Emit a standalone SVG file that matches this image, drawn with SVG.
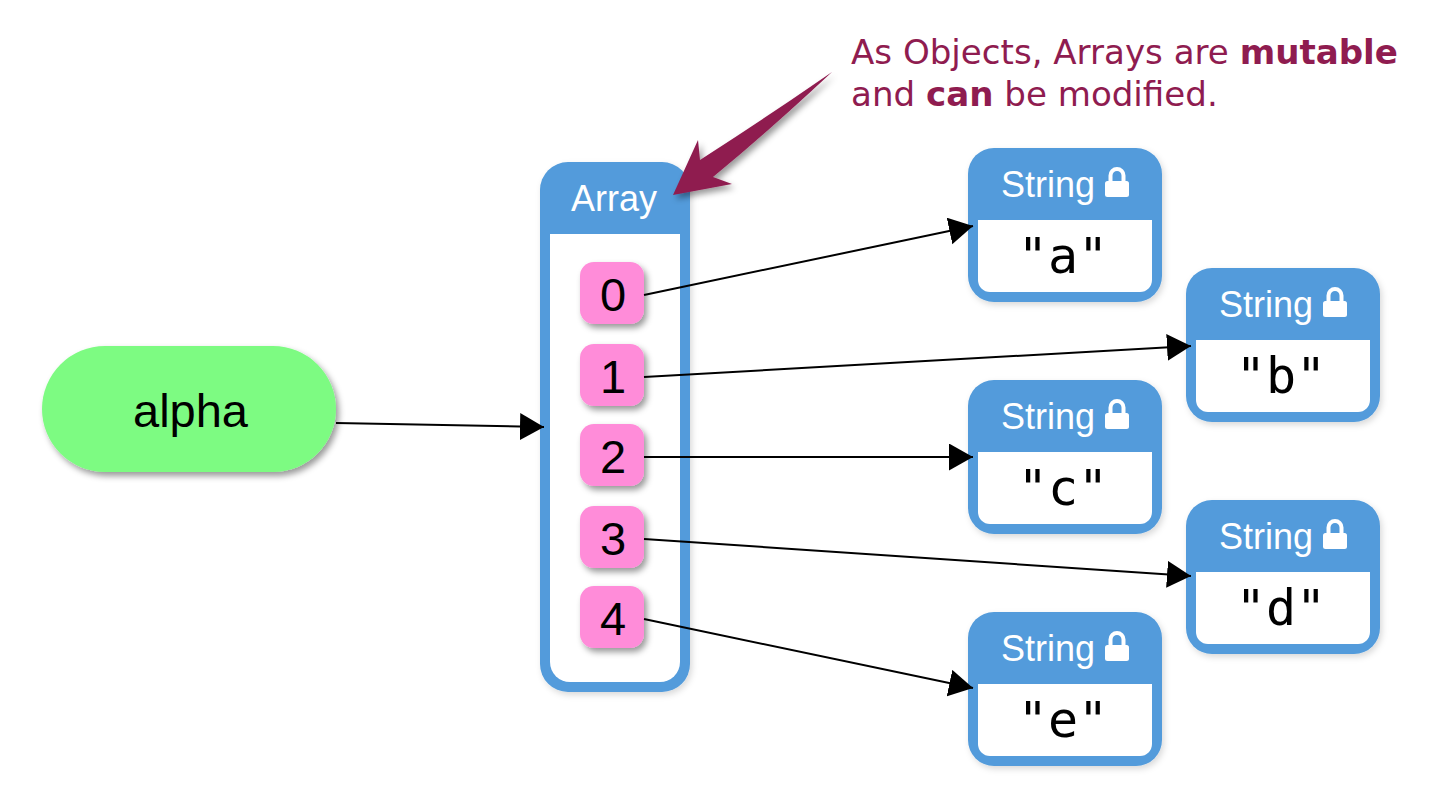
<svg xmlns="http://www.w3.org/2000/svg" width="1440" height="800" viewBox="0 0 1440 800">
<style>
.sans{font-family:"Liberation Sans",Arial,sans-serif}
.head{font-size:36px;fill:#fff;text-anchor:middle}
.idx{font-size:47px;fill:#000;text-anchor:middle}
.val{font-family:"DejaVu Sans Mono",monospace;font-size:50px;fill:#000;text-anchor:middle}
.pink{fill:#ff8cd9;filter:url(#sh)}
.blue{fill:#529bdb}
.inner{fill:#fff}
.note{font-family:"DejaVu Sans",sans-serif;font-size:34.100px;fill:#8f1c50}
.edge{stroke:#000;stroke-width:2;fill:none;marker-end:url(#ah)}
</style>
<defs>
<filter id="sh" x="-20%" y="-20%" width="150%" height="150%"><feDropShadow dx="3" dy="4" stdDeviation="3" flood-color="#000" flood-opacity=".4"/></filter>
<filter id="sh2" x="-20%" y="-20%" width="140%" height="140%"><feDropShadow dx="2" dy="3" stdDeviation="3" flood-color="#000" flood-opacity=".15"/></filter>
<marker id="ah" markerUnits="userSpaceOnUse" markerWidth="26" markerHeight="28" refX="24" refY="13.500" orient="auto"><path d="M0 0L24 13.500L0 27Z" fill="#000"/></marker>
<g id="lock"><rect x="-12" y="13" width="24" height="16" rx="2.500" fill="#fff"/><path d="M-6.500 14v-6.500a6.500 6.500 0 0 1 13 0v6.500" fill="none" stroke="#fff" stroke-width="4"/></g>
<g id="str"><rect width="194" height="154" rx="26" class="blue" filter="url(#sh2)"/><path d="M10 72h174v60a12 12 0 0 1-12 12h-150a12 12 0 0 1-12-12Z" class="inner"/><text x="80" y="49" class="sans head">String</text><use href="#lock" x="149" y="20"/></g>
</defs>
<rect width="1440" height="800" fill="#fff"/>
<g id="n-alpha"><rect x="42" y="346" width="294" height="126" rx="63" fill="#7dfb82" filter="url(#sh)"/><text x="190.500" y="427" class="sans" font-size="47" text-anchor="middle">alpha</text></g>
<g id="n-array"><rect x="540" y="162" width="150" height="530" rx="28" class="blue" filter="url(#sh2)"/><path d="M550 234h130v428a20 20 0 0 1-20 20h-90a20 20 0 0 1-20-20Z" class="inner"/><text x="614" y="211" class="sans head">Array</text>
<g id="n-i0"><rect x="580" y="262" width="64" height="62" rx="14" class="pink"/><text x="613" y="311" class="sans idx">0</text></g>
<g id="n-i1"><rect x="580" y="344" width="64" height="62" rx="14" class="pink"/><text x="613" y="393" class="sans idx">1</text></g>
<g id="n-i2"><rect x="580" y="424" width="64" height="62" rx="14" class="pink"/><text x="613" y="473" class="sans idx">2</text></g>
<g id="n-i3"><rect x="580" y="506" width="64" height="62" rx="14" class="pink"/><text x="613" y="555" class="sans idx">3</text></g>
<g id="n-i4"><rect x="580" y="586" width="64" height="62" rx="14" class="pink"/><text x="613" y="635" class="sans idx">4</text></g>
</g>
<g id="n-a"><use href="#str" x="968" y="148"/><text x="1063" y="273" class="val">"a"</text></g>
<g id="n-b"><use href="#str" x="1186" y="268"/><text x="1281" y="393" class="val">"b"</text></g>
<g id="n-c"><use href="#str" x="968" y="380"/><text x="1063" y="505" class="val">"c"</text></g>
<g id="n-d"><use href="#str" x="1186" y="500"/><text x="1281" y="625" class="val">"d"</text></g>
<g id="n-e"><use href="#str" x="968" y="612"/><text x="1063" y="737" class="val">"e"</text></g>
<g id="connectors">
<line class="edge" x1="336" y1="423" x2="544" y2="427"/>
<line class="edge" x1="644" y1="295" x2="973" y2="226"/>
<line class="edge" x1="644" y1="377" x2="1191" y2="346"/>
<line class="edge" x1="644" y1="457" x2="973" y2="457"/>
<line class="edge" x1="644" y1="539" x2="1191" y2="576"/>
<line class="edge" x1="644" y1="619" x2="973" y2="688"/>
</g>
<g id="annotation">
<path d="M673 195L698 140L700 160Q770 115 832 72Q770 130 713 177L732 184Z" fill="#8f1c50" filter="url(#sh)"/>
<text x="851" y="64" class="note">As Objects, Arrays are <tspan font-weight="bold">mutable</tspan></text>
<text x="851" y="106" class="note">and <tspan font-weight="bold">can</tspan> be modified.</text>
</g>
</svg>
